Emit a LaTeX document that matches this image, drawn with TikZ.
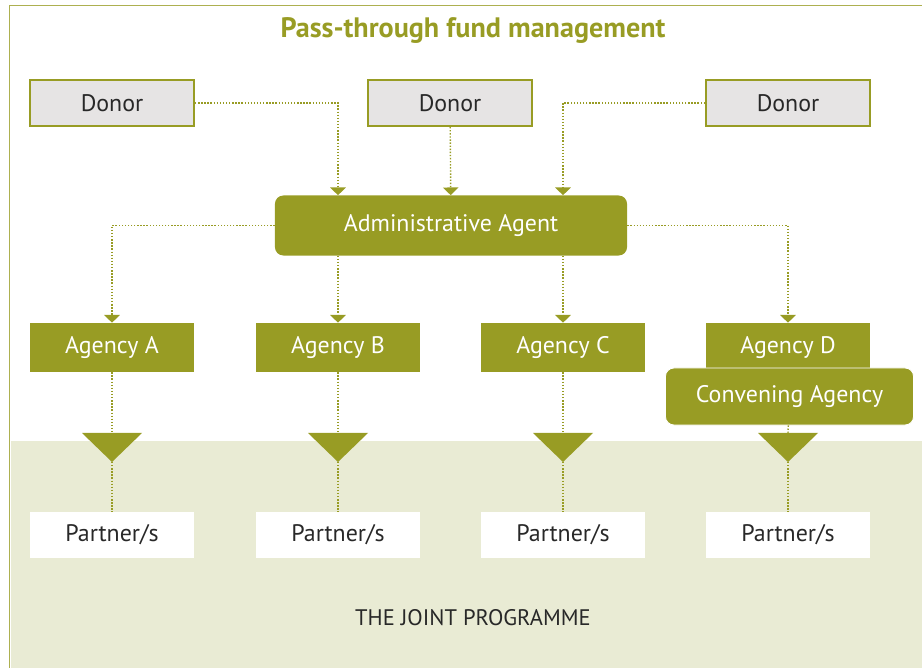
\documentclass[tikz,border=0pt]{standalone}
\usepackage{fontspec}
\setmainfont{PT Sans}
\usetikzlibrary{arrows.meta}
\usetikzlibrary{positioning}
\definecolor{fundgreen}{RGB}{152,156,36}
\definecolor{donorgray}{RGB}{230,228,228}
\definecolor{bandgreen}{RGB}{233,235,212}
\definecolor{darktext}{RGB}{40,40,40}

\tikzset{
  boxfont/.style={font=\fontsize{17}{19}\selectfont},
  donor/.style={boxfont, draw=fundgreen, line width=1.4pt, fill=donorgray, text=darktext,
    minimum width=4.1cm, minimum height=1.15cm},
  agency/.style={boxfont, fill=fundgreen, text=white, minimum width=4.1cm, minimum height=1.225cm},
  partner/.style={boxfont, fill=white, text=darktext, minimum width=4.1cm, minimum height=1.15cm},
  admin/.style={boxfont, fill=fundgreen, text=white, rounded corners=6pt,
    minimum width=8.8cm, minimum height=1.5cm},
  convening/.style={admin, draw=white, line width=0.6pt, minimum width=6.2cm, minimum height=1.425cm},
  link/.style={fundgreen, line width=1pt, dash pattern=on 1pt off 1.2pt},
  flow/.style={link, -{Triangle[width=11pt,length=5.5pt]}},
}

\begin{document}
\begin{tikzpicture}[x=0.025cm, y=-0.025cm]
  \useasboundingbox (0,0) rectangle (922,668);
  \clip (0,0) rectangle (922,668);
  \fill[bandgreen] (11,441) rectangle (922,668);
  \draw[fundgreen!80, line width=1.2pt] (9.5,5.5) rectangle (940,690);

  \node[font=\bfseries\fontsize{20}{22}\selectfont, text=fundgreen] (title) at (473,31) {Pass-through fund management};

  \node[donor] (d1) at (112,103) {Donor};
  \node[donor] (d2) at (450,103) {Donor};
  \node[donor] (d3) at (788,103) {Donor};

  \node[admin] (adm) at (451,225.5) {Administrative Agent};

  \foreach \c/\x in {A/112, B/338, C/563, D/788} {
    \node[agency] (ag\c) at (\x,347.5) {Agency \c};
    \coordinate (top\c) at (\x,433);
    \coordinate (tip\c) at (\x,462);
    \fill[fundgreen] (\x-30,433) -- (\x+30,433) -- (tip\c) -- cycle;
    \node[partner] (p\c) at (\x,535) {Partner/s};
    \draw[link] (tip\c) -- (p\c);
  }
  \node[convening] (conv) at (789.5,396.5) {Convening Agency};

  \draw[flow] (d1.east) -| (adm.north -| agB);
  \draw[flow] (d2) -- (adm);
  \draw[flow] (d3.west) -| (adm.north -| agC);

  \draw[flow] (adm.west) -| (agA.north);
  \draw[flow] (adm.south -| agB) -- (agB);
  \draw[flow] (adm.south -| agC) -- (agC);
  \draw[flow] (adm.east) -| (agD.north);

  \draw[link] (agA) -- (topA);
  \draw[link] (agB) -- (topB);
  \draw[link] (agC) -- (topC);
  \draw[link] (conv) -- (topD);

  \node[font=\fontsize{16}{18}\selectfont, text=darktext] (jp) at (473,618) {THE JOINT PROGRAMME};
\end{tikzpicture}
\end{document}
